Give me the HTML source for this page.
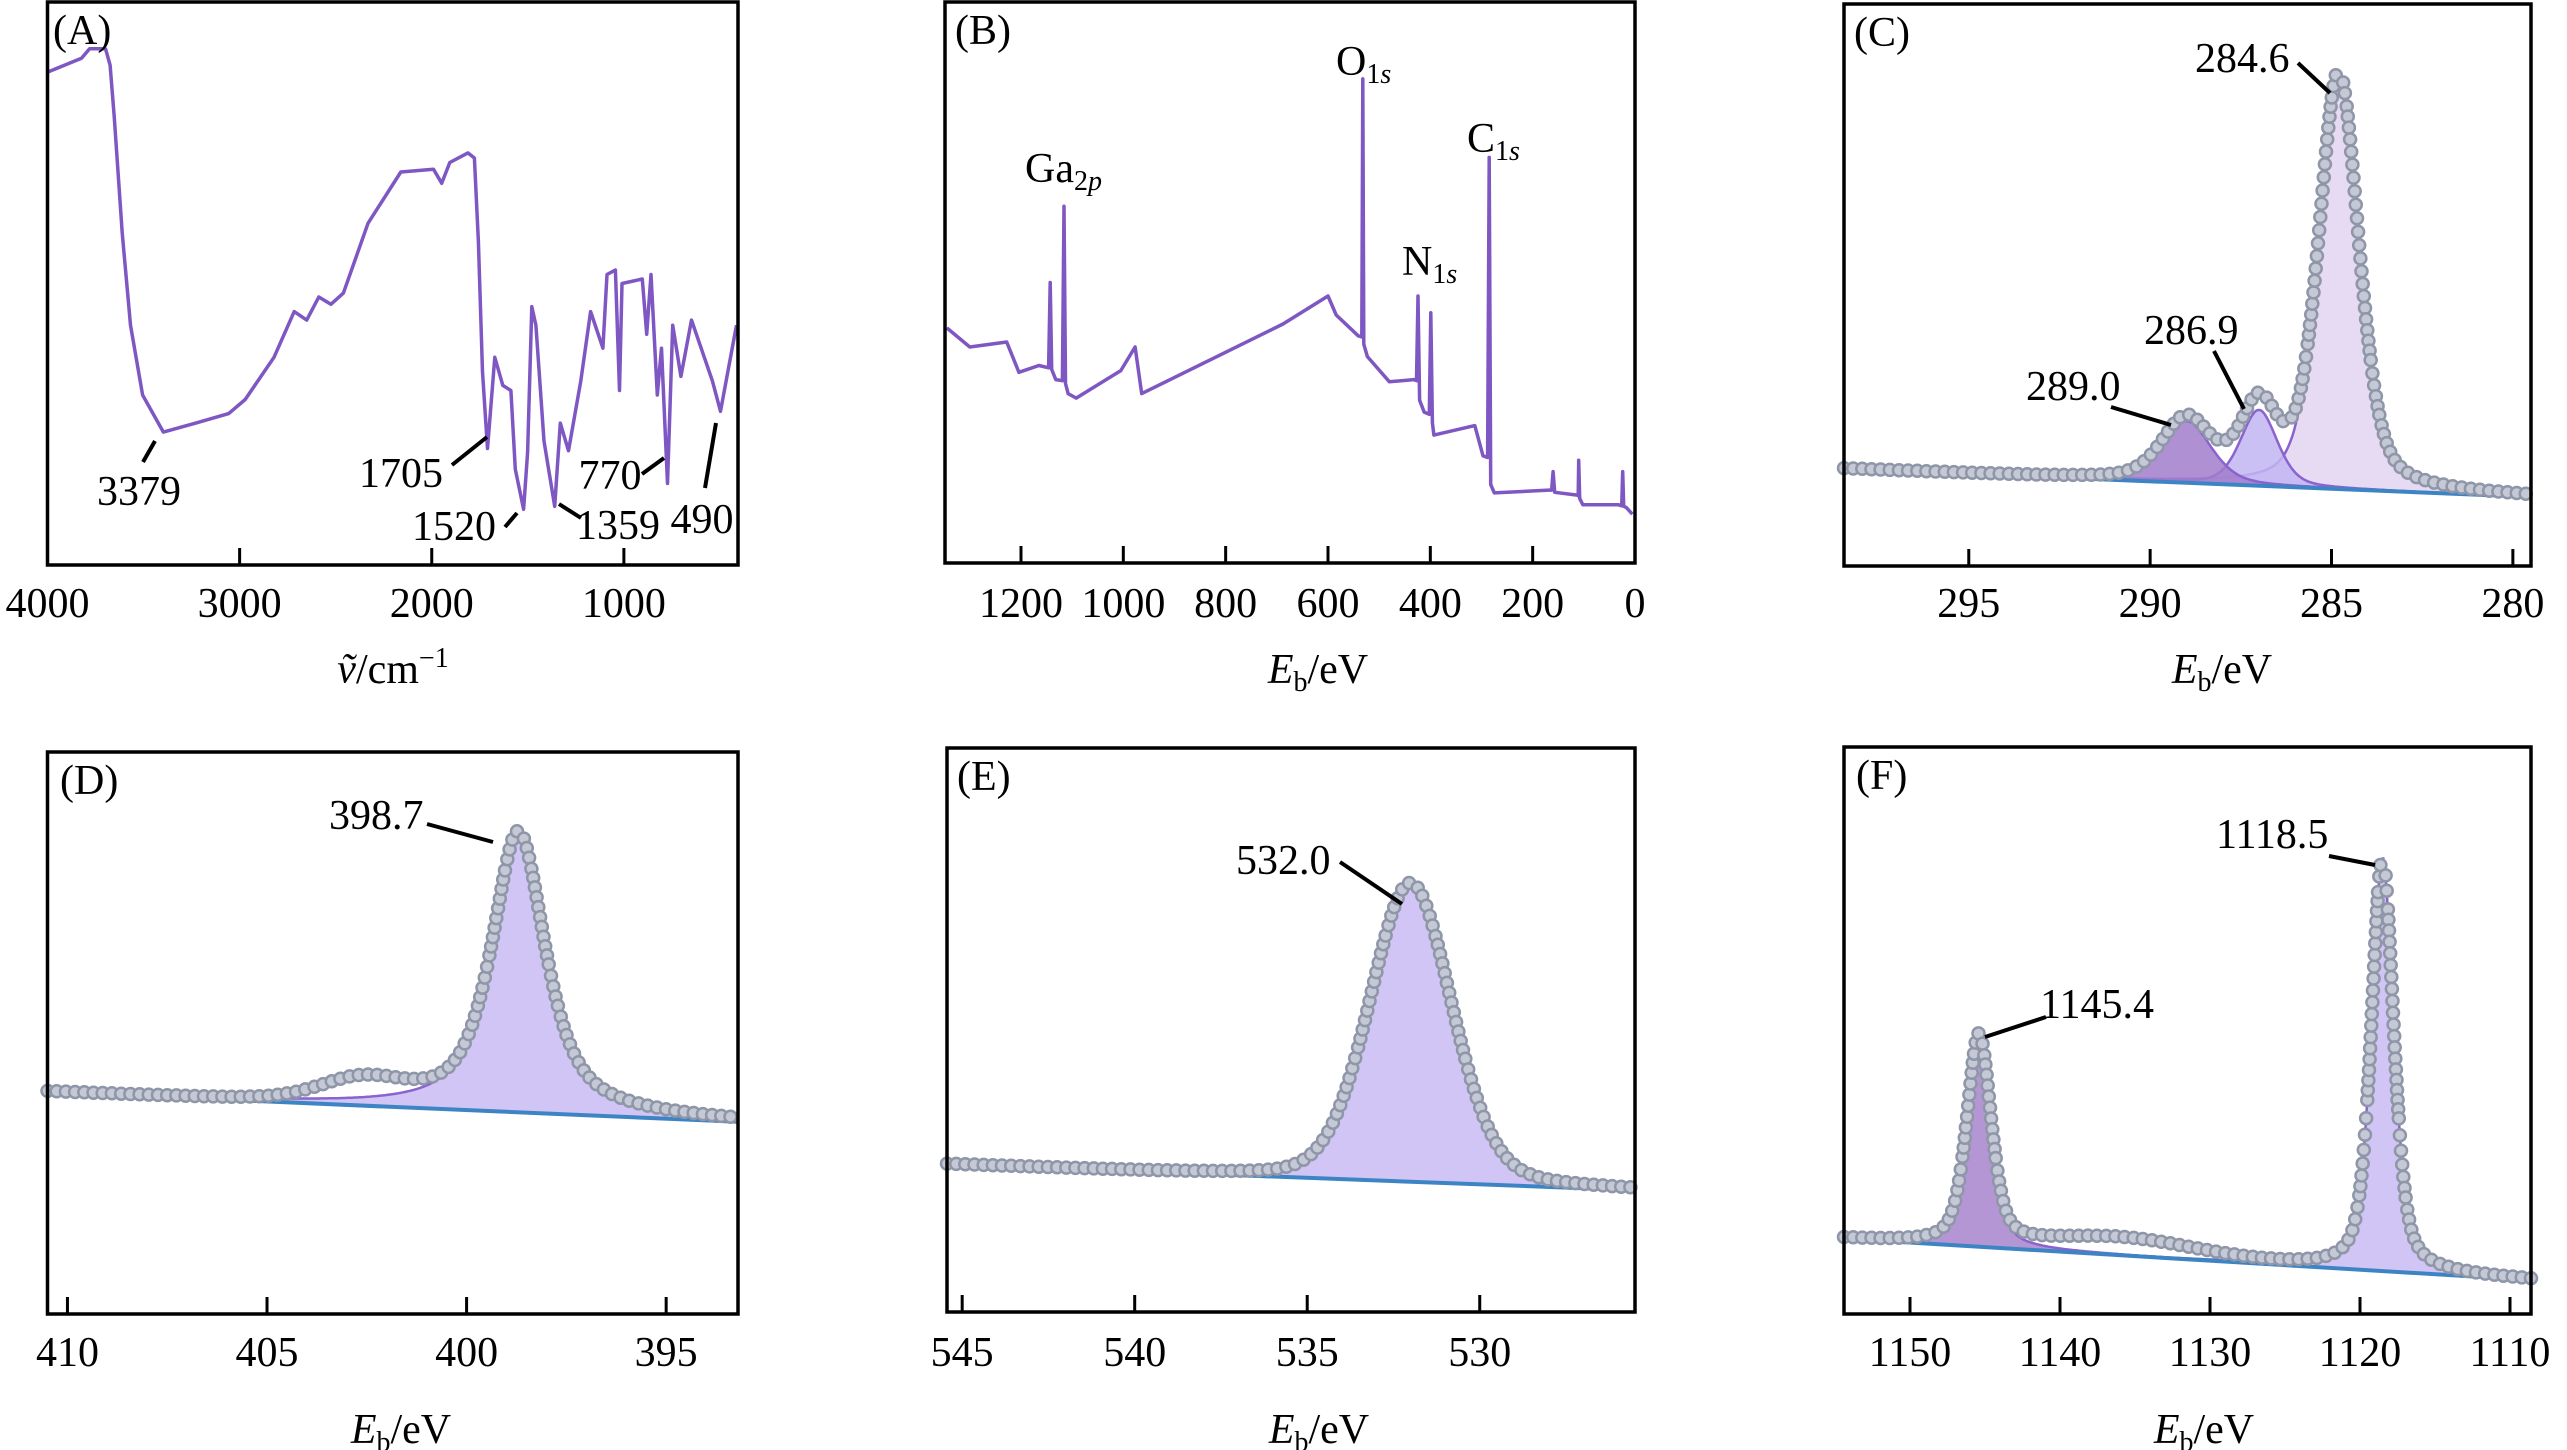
<!DOCTYPE html>
<html><head><meta charset="utf-8"><style>
html,body{margin:0;padding:0;background:#fff;}
svg{display:block;font-family:"Liberation Serif",serif;}
text{font-family:"Liberation Serif",serif;}
</style></head><body>
<svg id="fig" width="2567" height="1450" viewBox="0 0 2567 1450" xmlns="http://www.w3.org/2000/svg" font-family="Liberation Serif, serif"></svg>
<script>
// ---------- DATA ----------
// Panel A FTIR: wavenumber (cm-1) and relative transmittance (0-100 frame units)
const ftirWavenumber=[3995,3823,3781,3698,3674,3653,3611,3568,3505,3397,3228,3057,2971,2821,2716,2651,2588,2525,2460,2332,2161,1991,1948,1906,1812,1778,1757,1736,1710,1672,1630,1588,1565,1522,1501,1479,1458,1416,1360,1331,1288,1224,1173,1109,1088,1044,1023,1010,904,881,859,826,804,773,746,703,648,539,497,414];
const ftirTransmit=[87.6,90,91.7,91.7,88.8,79.7,59,42.6,30.2,23.6,25.2,26.9,29.4,36.9,45,43.5,47.6,46.3,48.3,60.7,69.8,70.3,67.8,71.5,73.2,72.3,57.4,34.3,20.7,36.9,31.9,31,17,9.9,20,45.9,42.6,22,10.4,25.2,20.3,32.7,45,38.5,51.6,52.4,31,50,50.8,41,51.6,30.2,38.5,14.5,42.6,33.5,43.5,32.7,27.3,42.6];
const ftirLabels=["3379","1705","1520","1359","770","490"];
// Panel B survey: binding energy (eV) and intensity
const surveyEnergy=[1345,1300,1228,1204,1165,1146,1143,1140,1132,1119,1116,1113,1108,1092,1005,977,964,688,600,584,541,534,532,530,523,480,432,427,424,421,412,402,399,396,393,313,297,288,285,282,275,168,163,160,157,113,111,110,108,102,33,26,24,22,17,5];
const surveyIntensity=[41.9,38.5,39.4,34,35.2,34.8,50,34.5,32.7,32.5,63.6,32,30.2,29.4,34.3,38.5,30.2,42.6,47.6,44.2,40.5,40.3,86.3,39,36.8,32.3,32.7,32.5,47.6,29,26.9,26.5,44.6,25,22.8,24.5,19.1,18.8,72.3,14,12.5,13,13,16.3,12.6,12.1,12,18.3,11.5,10.4,10.4,10.2,16.3,10.1,9.9,8.7];
const surveyLabels=["Ga","O","N","C"];
// Panel C (C1s) components: centre eV, height, FWHM
const c1sCenter=[284.8,287.0,289.0];
const c1sHeight=[74,13.5,11];
const c1sFwhm=[1.3,1.2,1.6];
const c1sBaseline=[17.3,12.3];
const c1sLabels=["284.6","286.9","289.0"];
// Panel D (N1s)
const n1sCenter=[398.7];
const n1sHeight=[50];
const n1sFwhm=[1.6];
const n1sBaseline=[39.5,34.2];
const n1sShoulderCenter=[402.6];
const n1sShoulderHeight=[4];
// Panel E (O1s)
const o1sCenter=[532.0];
const o1sHeight=[53];
const o1sFwhm=[2.8];
const o1sBaseline=[26.2,21.6];
// Panel F (Ga2p)
const ga2pCenter=[1145.4,1118.5];
const ga2pHeight=[37,73];
const ga2pFwhm=[1.9,1.75];
const ga2pBaseline=[13.3,6];
const ga2pHumpCenter=[1136];
const ga2pHumpHeight=[3];
// Axis ticks
const ticksA=[4000,3000,2000,1000];
const ticksB=[1200,1000,800,600,400,200,0];
const ticksC=[295,290,285,280];
const ticksD=[410,405,400,395];
const ticksE=[545,540,535,530];
const ticksF=[1150,1140,1130,1120,1110];

// ---------- RENDER ----------
const NS="http://www.w3.org/2000/svg";
const FONT='"Liberation Serif", serif';
const svg=document.getElementById('fig');
function mk(tag,attrs,parent){const e=document.createElementNS(NS,tag);for(const k in attrs)e.setAttribute(k,attrs[k]);if(tag==='text')e.setAttribute('font-family',FONT);(parent||svg).appendChild(e);return e;}
function txt(str,x,y,size,anchor,parent,name){const t=mk('text',{x:x,y:y,'font-size':size,'text-anchor':anchor||'middle',fill:'#000'},parent);t.textContent=str;


return t;}
function panel(name,L,R,T,B,x0,x1){
 const g=mk('g',{});
 
 
 return {g:g,L:L,R:R,T:T,B:B,sx:v=>L+(v-x0)/(x1-x0)*(R-L),sy:v=>B-v/100*(B-T)};
}
function frame(p,ticks,label,labelX,tickBase,title,titleX,titleBase){
 const f=mk('rect',{x:p.L,y:p.T,width:p.R-p.L,height:p.B-p.T,fill:'none',stroke:'#000','stroke-width':3.5},p.g);
 
 
 ticks.forEach(t=>{const x=p.sx(t);
  const l=mk('line',{x1:x,x2:x,y1:p.B,y2:p.B-17,stroke:'#000','stroke-width':3},p.g);
  
  
  txt(String(t),x,tickBase,42,'middle',p.g,'x-tick-label');});
 txt(label,labelX,p.T+42,42,'start',p.g,'panel-label');
 const tt=mk('text',{x:titleX,y:titleBase,'font-size':42,'text-anchor':'middle'},p.g);
 
 
 tt.innerHTML=title;
}
function leader(p,x1,y1,x2,y2){const l=mk('line',{x1:x1,y1:y1,x2:x2,y2:y2,stroke:'#000','stroke-width':4},p.g);
 
 }
function pv(x,c,h,w,eta){const g=Math.exp(-4*Math.LN2*((x-c)/w)**2);const l=1/(1+4*((x-c)/w)**2);return h*(eta*l+(1-eta)*g);}
function poly(p,xs,ys,stroke,sw,name){const d=xs.map((x,i)=>(i?'L':'M')+p.sx(x).toFixed(1)+','+p.sy(ys[i]).toFixed(1)).join('');
 const e=mk('path',{d:d,fill:'none',stroke:stroke,'stroke-width':sw,'stroke-linejoin':'round'},p.g);
 
 return e;}

// Panel A
const pA=panel('panel-a-ftir',47.5,738,2,565,4000,406);
poly(pA,ftirWavenumber,ftirTransmit,'#7e57c2',3.5,'ftir-line');
frame(pA,ticksA,'(A)',53,617,'<tspan font-style="italic">ṽ</tspan>/cm<tspan font-size="28" dy="-16">−1</tspan>',393,683);
const aPos=[[139,505,155,441,143,462],[401,487,452,465,487,437],[454,540,505,527,517,513],[618,539,581,518,559,504],[610,489,642,474,664,458],[702,533,705,488,716,423]];
ftirLabels.forEach((s,i)=>{const q=aPos[i];txt(s,q[0],q[1],42,'middle',pA.g,'peak-label-'+s);leader(pA,q[2],q[3],q[4],q[5]);});

// Panel B
const pB=panel('panel-b-survey',945,1635,2,563,1348.5,0);
poly(pB,surveyEnergy,surveyIntensity,'#7e57c2',3.5,'survey-line');
frame(pB,ticksB,'(B)',955,617,'<tspan font-style="italic">E</tspan><tspan font-size="28" dy="8">b</tspan><tspan dy="-8">/eV</tspan>',1318,683);
const bPos=[[1025,182,'2','p'],[1336,75,'1','s'],[1402,275,'1','s'],[1467,152,'1','s']];
surveyLabels.forEach((s,i)=>{const q=bPos[i];const t=mk('text',{x:q[0],y:q[1],'font-size':42},pB.g);
 
 
 t.innerHTML=s+'<tspan font-size="28" dy="8">'+q[2]+'</tspan><tspan font-size="28" font-style="italic">'+q[3]+'</tspan>';});

// XPS fitted panel drawing
function xps(p,lo,hi,centers,heights,fwhms,base,eta,fills,extraC,extraH,extraW){
 const N=400,xs=[];for(let i=0;i<=N;i++)xs.push(hi+(lo-hi)*i/N);
 const bl=x=>base[0]+(base[1]-base[0])*(x-hi)/(lo-hi);
 centers.forEach((c,k)=>{
  let d='M'+p.sx(xs[0]).toFixed(1)+','+p.sy(bl(xs[0])).toFixed(1);
  xs.forEach(x=>{d+='L'+p.sx(x).toFixed(1)+','+p.sy(bl(x)+pv(x,c,heights[k],fwhms[k],eta)).toFixed(1);});
  for(let i=N;i>=0;i--)d+='L'+p.sx(xs[i]).toFixed(1)+','+p.sy(bl(xs[i])).toFixed(1);
  const e=mk('path',{d:d+'Z',fill:fills[k],'fill-opacity':0.85,stroke:'#8a63cf','stroke-width':2.5},p.g);
  
  
 });
 poly(p,[hi,lo],[base[0],base[1]],'#3d84c4',4,'background-line');
 const env=x=>bl(x)+centers.reduce((s,c,k)=>s+pv(x,c,heights[k],fwhms[k],eta),0)+(extraC||[]).reduce((s,c,k)=>s+pv(x,c,extraH[k],extraW,0.2),0);
 const pts=mk('g',{},p.g);
 
 
 let lastX=-99,lastY=-99;
 for(let i=0;i<=1200;i++){const x=hi+(lo-hi)*i/1200;const px=p.sx(x),py=p.sy(env(x));
  if(Math.hypot(px-lastX,py-lastY)>=9){mk('circle',{cx:px.toFixed(1),cy:py.toFixed(1),r:6,fill:'#c5c9d6',stroke:'#8f96a8','stroke-width':2.5},pts);lastX=px;lastY=py;}}
}
const title='<tspan font-style="italic">E</tspan><tspan font-size="28" dy="8">b</tspan><tspan dy="-8">/eV</tspan>';
// C
const pC=panel('panel-c-c1s',1844,2531,4,566,298.44,279.5);
xps(pC,279.5,298.44,c1sCenter,c1sHeight,c1sFwhm,c1sBaseline,0.4,['#e3d3f1','#c2b5f2','#a17ccb']);
frame(pC,ticksC,'(C)',1854,617,title,2222,683);
[[2195,72,2298,63,2330,93],[2144,344,2214,351,2244,409],[2026,400,2111,407,2171,425]].forEach((q,i)=>{txt(c1sLabels[i],q[0],q[1],42,'start',pC.g,'peak-label-'+c1sLabels[i]);leader(pC,q[2],q[3],q[4],q[5]);});
// D
const pD=panel('panel-d-n1s',47.5,738,752,1314,410.5,393.2);
xps(pD,393.2,410.5,n1sCenter,n1sHeight,n1sFwhm,n1sBaseline,0.75,['#c9bbf3'],n1sShoulderCenter,n1sShoulderHeight,2.5);
frame(pD,ticksD,'(D)',60,1366,title,401,1443);
txt('398.7',329,829,42,'start',pD.g,'peak-label-398.7');leader(pD,427,824,493,842);
// E
const pE=panel('panel-e-o1s',947,1635,748,1312,545.44,525.5);
xps(pE,525.5,545.44,o1sCenter,o1sHeight,o1sFwhm,o1sBaseline,0.2,['#c9bbf3']);
frame(pE,ticksE,'(E)',957,1366,title,1319,1443);
txt('532.0',1236,874,42,'start',pE.g,'peak-label-532.0');leader(pE,1340,862,1402,904);
// F
const pF=panel('panel-f-ga2p',1844,2531,747,1314,1154.4,1108.6);
xps(pF,1108.6,1154.4,ga2pCenter,ga2pHeight,ga2pFwhm,ga2pBaseline,0.5,['#a884cc','#c9bbf3'],ga2pHumpCenter,ga2pHumpHeight,12);
frame(pF,ticksF,'(F)',1856,1366,title,2204,1443);
txt('1118.5',2216,848,42,'start',pF.g,'peak-label-1118.5');leader(pF,2329,856,2375,865);
txt('1145.4',2040,1018,42,'start',pF.g,'peak-label-1145.4');leader(pF,2046,1017,1985,1037);
</script>
</body></html>
